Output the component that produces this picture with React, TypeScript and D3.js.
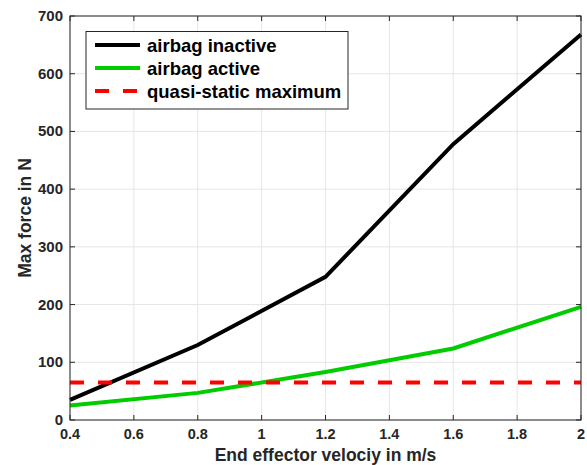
import React from "react";
import * as d3 from "d3";

const velocities = [0.4, 0.8, 1.2, 1.6, 2.0];
const airbagInactive = [35, 130, 248, 478, 668];
const airbagActive = [25, 47, 83, 124, 196];
const quasiStaticMax = 65;
const xTicks = [0.4, 0.6, 0.8, 1, 1.2, 1.4, 1.6, 1.8, 2];
const yTicks = [0, 100, 200, 300, 400, 500, 600, 700];
const seriesNames = ["airbag inactive", "airbag active", "quasi-static maximum"];

const W = 587, H = 465;
const m = { left: 70, right: 6, top: 16, bottom: 45 };

export default function App() {
  const x = d3.scaleLinear().domain([0.4, 2]).range([m.left, W - m.right]);
  const y = d3.scaleLinear().domain([0, 700]).range([H - m.bottom, m.top]);
  const line = d3.line<number>().x((_, i) => x(velocities[i])).y((d) => y(d));
  const font = "'Liberation Sans', Arial, Helvetica, sans-serif";
  const tc = "#262626";
  const x0 = m.left, x1 = W - m.right, y0 = H - m.bottom, y1 = m.top;
  return (
    <svg width={W} height={H} style={{ position: "absolute", left: 0, top: 0, background: "#fff" }}>
      <rect x={x0} y={y1} width={x1 - x0} height={y0 - y1} fill="#fff" />
      {xTicks.map((t) => (
        <line key={"gx" + t} x1={x(t)} x2={x(t)} y1={y0} y2={y1} stroke="#e6e6e6" strokeWidth={1} />
      ))}
      {yTicks.map((t) => (
        <line key={"gy" + t} x1={x0} x2={x1} y1={y(t)} y2={y(t)} stroke="#e6e6e6" strokeWidth={1} />
      ))}
      <path d={line(airbagInactive) || ""} fill="none" stroke="#000" strokeWidth={4} />
      <path d={line(airbagActive) || ""} fill="none" stroke="#00cc00" strokeWidth={4} />
      <line x1={x0} x2={x1} y1={y(quasiStaticMax)} y2={y(quasiStaticMax)} stroke="#ff0000" strokeWidth={4} strokeDasharray="14 14" />
      <rect x={x0} y={y1} width={x1 - x0} height={y0 - y1} fill="none" stroke={tc} strokeWidth={1} />
      {xTicks.map((t) => (
        <g key={"tx" + t}>
          <line x1={x(t)} x2={x(t)} y1={y0} y2={y0 - 5} stroke={tc} />
          <line x1={x(t)} x2={x(t)} y1={y1} y2={y1 + 5} stroke={tc} />
          <text x={x(t)} y={y0 + 19} textAnchor="middle" fontFamily={font} fontWeight="bold" fontSize={14.5} fill={tc}>
            {String(t)}
          </text>
        </g>
      ))}
      {yTicks.map((t) => (
        <g key={"ty" + t}>
          <line x1={x0} x2={x0 + 5} y1={y(t)} y2={y(t)} stroke={tc} />
          <line x1={x1} x2={x1 - 5} y1={y(t)} y2={y(t)} stroke={tc} />
          <text x={x0 - 7} y={y(t) + 5} textAnchor="end" fontFamily={font} fontWeight="bold" fontSize={15} fill={tc}>
            {t}
          </text>
        </g>
      ))}
      <text x={(x0 + x1) / 2} y={461} textAnchor="middle" fontFamily={font} fontWeight="bold" fontSize={17.5} fill={tc}>
        End effector velociy in m/s
      </text>
      <text transform={`translate(31,${(y0 + y1) / 2}) rotate(-90)`} textAnchor="middle" fontFamily={font} fontWeight="bold" fontSize={17.5} fill={tc}>
        Max force in N
      </text>
      <g>
        <rect x={86} y={31.5} width={262} height={77.5} fill="#fff" stroke={tc} strokeWidth={1} />
        {seriesNames.map((n, i) => {
          const cy = 45 + i * 23;
          const stroke = i === 0 ? "#000" : i === 1 ? "#00cc00" : "#ff0000";
          return (
            <g key={n}>
              <line x1={95} x2={140} y1={cy} y2={cy} stroke={stroke} strokeWidth={4} strokeDasharray={i === 2 ? "14 14" : undefined} />
              <text x={147} y={cy + 6.5} fontFamily={font} fontWeight="bold" fontSize={18.5} fill="#000">
                {n}
              </text>
            </g>
          );
        })}
      </g>
    </svg>
  );
}
